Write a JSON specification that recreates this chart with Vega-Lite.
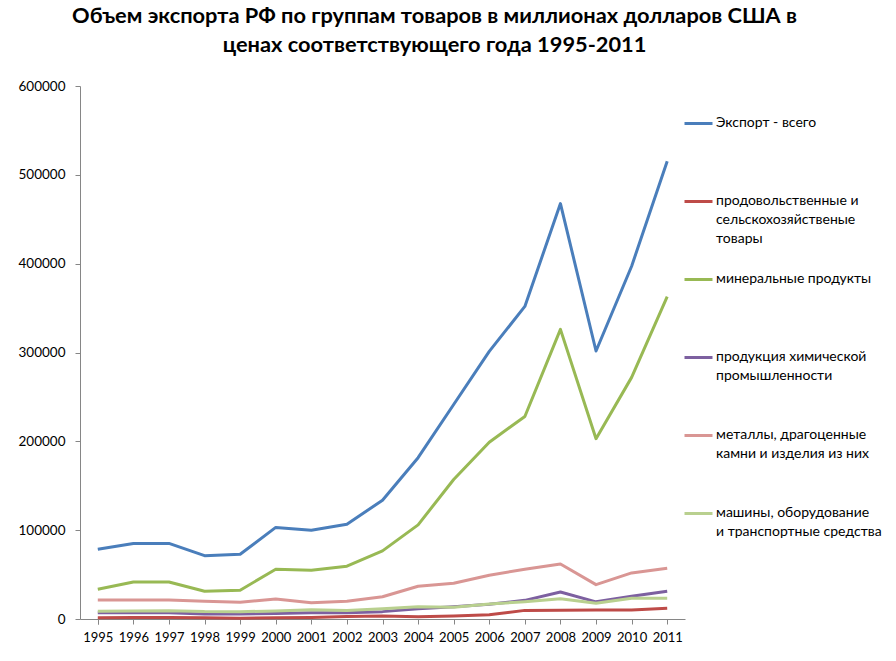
{
  "$schema": "https://vega.github.io/schema/vega-lite/v6.json",
  "autosize": "none",
  "width": 605,
  "height": 533,
  "padding": {"left": 80, "top": 86, "right": 211, "bottom": 42},
  "background": "white",
  "title": {
    "text": ["Объем экспорта РФ по группам товаров в миллионах долларов США в", "ценах соответствующего года 1995-2011"],
    "font": "Lato",
    "fontSize": 21.8,
    "fontWeight": "bold",
    "color": "#000000",
    "anchor": "middle",
    "dx": 52,
    "offset": 22,
    "lineHeight": 29
  },
  "data": {
    "values": [
      {"year": "1995", "series": "Экспорт - всего", "value": 78600},
      {"year": "1996", "series": "Экспорт - всего", "value": 85100},
      {"year": "1997", "series": "Экспорт - всего", "value": 85100},
      {"year": "1998", "series": "Экспорт - всего", "value": 71300},
      {"year": "1999", "series": "Экспорт - всего", "value": 72900},
      {"year": "2000", "series": "Экспорт - всего", "value": 103100},
      {"year": "2001", "series": "Экспорт - всего", "value": 99900},
      {"year": "2002", "series": "Экспорт - всего", "value": 106700},
      {"year": "2003", "series": "Экспорт - всего", "value": 133700},
      {"year": "2004", "series": "Экспорт - всего", "value": 181600},
      {"year": "2005", "series": "Экспорт - всего", "value": 241500},
      {"year": "2006", "series": "Экспорт - всего", "value": 301200},
      {"year": "2007", "series": "Экспорт - всего", "value": 351900},
      {"year": "2008", "series": "Экспорт - всего", "value": 467600},
      {"year": "2009", "series": "Экспорт - всего", "value": 301700},
      {"year": "2010", "series": "Экспорт - всего", "value": 397100},
      {"year": "2011", "series": "Экспорт - всего", "value": 515400},

      {"year": "1995", "series": "продовольственные и сельскохозяйственые товары", "value": 1500},
      {"year": "1996", "series": "продовольственные и сельскохозяйственые товары", "value": 1600},
      {"year": "1997", "series": "продовольственные и сельскохозяйственые товары", "value": 1600},
      {"year": "1998", "series": "продовольственные и сельскохозяйственые товары", "value": 1400},
      {"year": "1999", "series": "продовольственные и сельскохозяйственые товары", "value": 900},
      {"year": "2000", "series": "продовольственные и сельскохозяйственые товары", "value": 1300},
      {"year": "2001", "series": "продовольственные и сельскохозяйственые товары", "value": 1700},
      {"year": "2002", "series": "продовольственные и сельскохозяйственые товары", "value": 2700},
      {"year": "2003", "series": "продовольственные и сельскохозяйственые товары", "value": 3500},
      {"year": "2004", "series": "продовольственные и сельскохозяйственые товары", "value": 2600},
      {"year": "2005", "series": "продовольственные и сельскохозяйственые товары", "value": 3400},
      {"year": "2006", "series": "продовольственные и сельскохозяйственые товары", "value": 4800},
      {"year": "2007", "series": "продовольственные и сельскохозяйственые товары", "value": 9700},
      {"year": "2008", "series": "продовольственные и сельскохозяйственые товары", "value": 9900},
      {"year": "2009", "series": "продовольственные и сельскохозяйственые товары", "value": 10000},
      {"year": "2010", "series": "продовольственные и сельскохозяйственые товары", "value": 10000},
      {"year": "2011", "series": "продовольственные и сельскохозяйственые товары", "value": 12200},

      {"year": "1995", "series": "минеральные продукты", "value": 33500},
      {"year": "1996", "series": "минеральные продукты", "value": 41700},
      {"year": "1997", "series": "минеральные продукты", "value": 41700},
      {"year": "1998", "series": "минеральные продукты", "value": 31200},
      {"year": "1999", "series": "минеральные продукты", "value": 32400},
      {"year": "2000", "series": "минеральные продукты", "value": 56000},
      {"year": "2001", "series": "минеральные продукты", "value": 54900},
      {"year": "2002", "series": "минеральные продукты", "value": 59400},
      {"year": "2003", "series": "минеральные продукты", "value": 76700},
      {"year": "2004", "series": "минеральные продукты", "value": 106000},
      {"year": "2005", "series": "минеральные продукты", "value": 157000},
      {"year": "2006", "series": "минеральные продукты", "value": 199000},
      {"year": "2007", "series": "минеральные продукты", "value": 228000},
      {"year": "2008", "series": "минеральные продукты", "value": 326000},
      {"year": "2009", "series": "минеральные продукты", "value": 203000},
      {"year": "2010", "series": "минеральные продукты", "value": 272000},
      {"year": "2011", "series": "минеральные продукты", "value": 363000},

      {"year": "1995", "series": "продукция химической промышленности", "value": 7100},
      {"year": "1996", "series": "продукция химической промышленности", "value": 7100},
      {"year": "1997", "series": "продукция химической промышленности", "value": 7000},
      {"year": "1998", "series": "продукция химической промышленности", "value": 5700},
      {"year": "1999", "series": "продукция химической промышленности", "value": 5600},
      {"year": "2000", "series": "продукция химической промышленности", "value": 6200},
      {"year": "2001", "series": "продукция химической промышленности", "value": 7000},
      {"year": "2002", "series": "продукция химической промышленности", "value": 7000},
      {"year": "2003", "series": "продукция химической промышленности", "value": 8300},
      {"year": "2004", "series": "продукция химической промышленности", "value": 11500},
      {"year": "2005", "series": "продукция химической промышленности", "value": 13900},
      {"year": "2006", "series": "продукция химической промышленности", "value": 16500},
      {"year": "2007", "series": "продукция химической промышленности", "value": 21000},
      {"year": "2008", "series": "продукция химической промышленности", "value": 30400},
      {"year": "2009", "series": "продукция химической промышленности", "value": 19300},
      {"year": "2010", "series": "продукция химической промышленности", "value": 25500},
      {"year": "2011", "series": "продукция химической промышленности", "value": 31300},

      {"year": "1995", "series": "металлы, драгоценные камни и изделия из них", "value": 21400},
      {"year": "1996", "series": "металлы, драгоценные камни и изделия из них", "value": 21400},
      {"year": "1997", "series": "металлы, драгоценные камни и изделия из них", "value": 21400},
      {"year": "1998", "series": "металлы, драгоценные камни и изделия из них", "value": 20000},
      {"year": "1999", "series": "металлы, драгоценные камни и изделия из них", "value": 18800},
      {"year": "2000", "series": "металлы, драгоценные камни и изделия из них", "value": 22500},
      {"year": "2001", "series": "металлы, драгоценные камни и изделия из них", "value": 18400},
      {"year": "2002", "series": "металлы, драгоценные камни и изделия из них", "value": 20000},
      {"year": "2003", "series": "металлы, драгоценные камни и изделия из них", "value": 25000},
      {"year": "2004", "series": "металлы, драгоценные камни и изделия из них", "value": 36900},
      {"year": "2005", "series": "металлы, драгоценные камни и изделия из них", "value": 40200},
      {"year": "2006", "series": "металлы, драгоценные камни и изделия из них", "value": 49300},
      {"year": "2007", "series": "металлы, драгоценные камни и изделия из них", "value": 56000},
      {"year": "2008", "series": "металлы, драгоценные камни и изделия из них", "value": 62000},
      {"year": "2009", "series": "металлы, драгоценные камни и изделия из них", "value": 38700},
      {"year": "2010", "series": "металлы, драгоценные камни и изделия из них", "value": 51900},
      {"year": "2011", "series": "металлы, драгоценные камни и изделия из них", "value": 57200},

      {"year": "1995", "series": "машины, оборудование и транспортные средства", "value": 8700},
      {"year": "1996", "series": "машины, оборудование и транспортные средства", "value": 8900},
      {"year": "1997", "series": "машины, оборудование и транспортные средства", "value": 9400},
      {"year": "1998", "series": "машины, оборудование и транспортные средства", "value": 8400},
      {"year": "1999", "series": "машины, оборудование и транспортные средства", "value": 8300},
      {"year": "2000", "series": "машины, оборудование и транспортные средства", "value": 9000},
      {"year": "2001", "series": "машины, оборудование и транспортные средства", "value": 10500},
      {"year": "2002", "series": "машины, оборудование и транспортные средства", "value": 9700},
      {"year": "2003", "series": "машины, оборудование и транспортные средства", "value": 11600},
      {"year": "2004", "series": "машины, оборудование и транспортные средства", "value": 13900},
      {"year": "2005", "series": "машины, оборудование и транспортные средства", "value": 13200},
      {"year": "2006", "series": "машины, оборудование и транспортные средства", "value": 16900},
      {"year": "2007", "series": "машины, оборудование и транспортные средства", "value": 19500},
      {"year": "2008", "series": "машины, оборудование и транспортные средства", "value": 22900},
      {"year": "2009", "series": "машины, оборудование и транспортные средства", "value": 17700},
      {"year": "2010", "series": "машины, оборудование и транспортные средства", "value": 23300},
      {"year": "2011", "series": "машины, оборудование и транспортные средства", "value": 23300}
    ]
  },
  "mark": {"type": "line", "strokeWidth": 3, "strokeJoin": "round"},
  "encoding": {
    "x": {
      "field": "year",
      "type": "ordinal",
      "scale": {"type": "point", "padding": 0.5},
      "axis": {
        "title": null,
        "labelAngle": 0,
        "labelFont": "Lato",
        "labelFontSize": 13,
        "labelColor": "#000000",
        "labelPadding": 7,
        "domainColor": "#868686",
        "tickColor": "#868686",
        "tickSize": 5,
        "tickBand": "extent",
        "grid": false
      }
    },
    "y": {
      "field": "value",
      "type": "quantitative",
      "scale": {"domain": [0, 600000], "nice": false},
      "axis": {
        "title": null,
        "values": [0, 100000, 200000, 300000, 400000, 500000, 600000],
        "format": "d",
        "labelFont": "Lato",
        "labelFontSize": 13.5,
        "labelColor": "#000000",
        "labelPadding": 10,
        "domainColor": "#868686",
        "tickColor": "#868686",
        "tickSize": 5,
        "grid": false
      }
    },
    "color": {
      "field": "series",
      "type": "nominal",
      "sort": null,
      "scale": {
        "domain": ["Экспорт - всего", "продовольственные и сельскохозяйственые товары", "минеральные продукты", "продукция химической промышленности", "металлы, драгоценные камни и изделия из них", "машины, оборудование и транспортные средства"],
        "range": ["#4A7EBB", "#BE4B48", "#98B954", "#7D60A0", "#D99694", "#B9D08F"]
      },
      "legend": {
        "title": null,
        "orient": "none",
        "legendX": 603,
        "legendY": 22,
        "direction": "vertical",
        "gridAlign": "all",
        "symbolType": "stroke",
        "symbolSize": 784,
        "symbolStrokeWidth": 3,
        "labelFont": "Lato",
        "labelFontSize": 14,
        "labelColor": "#000000",
        "labelLimit": 300,
        "labelBaseline": "top",
        "labelOffset": 2,
        "rowPadding": 18,
        "encode": {"labels": {"update": {"dy": {"value": -8}}}},
        "labelExpr": "datum.label == 'продовольственные и сельскохозяйственые товары' ? ['продовольственные и', 'сельскохозяйственые', 'товары'] : datum.label == 'продукция химической промышленности' ? ['продукция химической', 'промышленности'] : datum.label == 'металлы, драгоценные камни и изделия из них' ? ['металлы, драгоценные', 'камни и изделия из них'] : datum.label == 'машины, оборудование и транспортные средства' ? ['машины, оборудование', 'и транспортные средства'] : datum.label"
      }
    }
  },
  "config": {
    "view": {"stroke": null},
    "style": {"guide-label": {"lineHeight": 19}}
  }
}
